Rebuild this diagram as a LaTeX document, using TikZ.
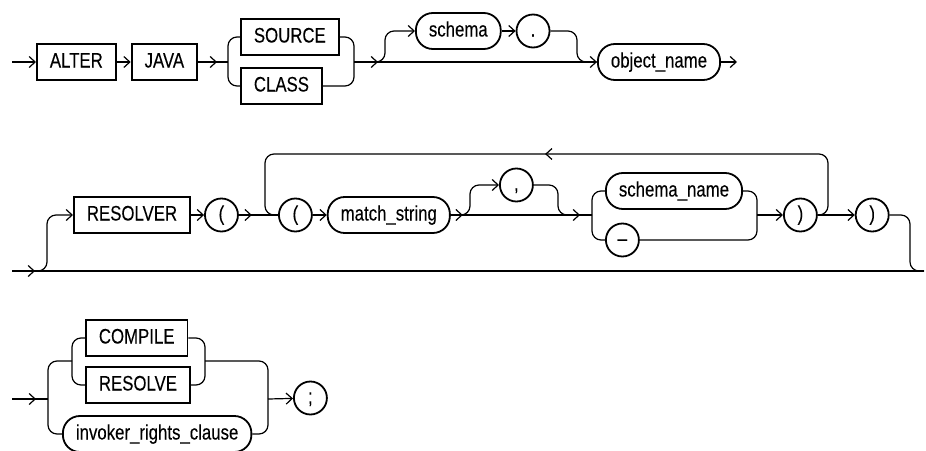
\documentclass[tikz,border=0pt]{standalone}
\usepackage{fontspec}
\setmainfont{Liberation Sans}[FakeStretch=0.8, FakeBold=0.15]
\usetikzlibrary{arrows.meta,positioning,decorations.markings}

\begin{document}
\begin{tikzpicture}[
    x=1pt, y=-1pt,
    font=\fontsize{21}{24}\selectfont,
    kw/.style={rectangle, draw, line width=1.8pt, minimum height=36pt, inner xsep=13pt, text height=15pt, text depth=4pt},
    ident/.style={kw, rounded corners=17pt},
    punct/.style={circle, draw, line width=1.8pt, minimum size=33pt, inner sep=0pt, text height=15pt, text depth=4pt},
    rail/.style={line width=1.2pt, rounded corners=9pt},
    flow/.style={rail, -{Straight Barb[length=6pt, width=11pt]}},
    tipat/.style={postaction={decorate, decoration={markings, mark=at position #1 with {\arrow{Straight Barb[length=6pt, width=11pt]}}}}},
    node distance=14pt
]
    \useasboundingbox (0,0) rectangle (926,450);

    % ALTER JAVA {SOURCE|CLASS} [schema .] object_name
    \coordinate (in1) at (12,62);
    \node[kw, anchor=west] (alter) at (36,62) {ALTER};
    \node[kw, right=of alter] (java) {JAVA};
    \coordinate (fork1) at (228,62);
    \node[kw, anchor=west] (source) at (240,37) {SOURCE};
    \node[kw, anchor=west] (class) at (240,86) {CLASS};
    \coordinate (join1) at (354,62);
    \coordinate (opt1) at (385,62);
    \node[ident, anchor=west] (schema) at (415,31) {schema};
    \node[punct, right=of schema] (dot) {.};
    \coordinate (back1) at (577,62);
    \node[ident, anchor=west] (objname) at (597,62) {object\_name};
    \coordinate (out1) at (737,62);

    \draw[flow] (in1) -- (alter);
    \draw[flow] (alter) -- (java);
    \draw[rail, tipat=-11pt] (java) -- (fork1);
    \draw[rail] (source.west) -| (fork1) |- (class.west);
    \draw[rail] (source.east) -| (join1) |- (class.east);
    \draw[flow, tipat=24pt] (join1) -- (objname);
    \draw[flow] (join1) -- (opt1) |- (schema.west);
    \draw[flow] (schema) -- (dot);
    \draw[rail] (dot.east) -| (back1) -- (objname.west);
    \draw[flow] (objname) -- (out1);

    % RESOLVER clause
    \coordinate (in2) at (12,271);
    \coordinate (rise2) at (47,271);
    \node[kw, anchor=west] (resolver) at (73,215) {RESOLVER};
    \node[punct, right=13pt of resolver] (lpar1) {(};
    \coordinate (loopin) at (265,215);
    \node[punct, anchor=west] (lpar2) at (278,215) {(};
    \node[ident, right=of lpar2] (match) {match\_string};
    \coordinate (opt2) at (470,215);
    \node[punct, anchor=west] (comma) at (499,185) {,};
    \coordinate (back2) at (558,215);
    \coordinate (fork2) at (592,215);
    \node[ident, anchor=west] (sname) at (605,191) {schema\_name};
    \node[punct, anchor=west] (dash) at (605,240) {--};
    \coordinate (join2) at (757,215);
    \node[punct, anchor=west] (rpar1) at (783,215) {)};
    \coordinate (loopout) at (828,215);
    \coordinate (looptop) at (546,154);
    \node[punct, right=37pt of rpar1] (rpar2) {)};
    \coordinate (drop2) at (910,271);
    \coordinate (out2) at (924,271);

    \draw[rail, tipat=23pt] (in2) -- (out2);
    \draw[flow] (in2) -- (rise2) |- (resolver.west);
    \draw[flow] (resolver) -- (lpar1);
    \draw[rail, tipat=13pt] (lpar1) -- (lpar2);
    \draw[rail, tipat=0.5] (rpar1.east) -- (loopout) |- (looptop) -| (loopin) -- (lpar2.west);
    \draw[flow] (lpar2) -- (match);
    \draw[rail, tipat=12pt, tipat=-12pt] (match) -- (fork2);
    \draw[flow] (match.east) -- (opt2) |- (comma.west);
    \draw[rail] (comma.east) -| (back2) -- (fork2);
    \draw[rail] (sname.west) -| (fork2) |- (dash.west);
    \draw[rail] (sname.east) -| (join2) |- (dash.east);
    \draw[flow] (join2) -- (rpar1);
    \draw[flow] (rpar1) -- (rpar2);
    \draw[rail] (rpar2.east) -| (drop2) -- (out2);

    % COMPILE | RESOLVE | invoker_rights_clause ;
    \coordinate (in3) at (12,399);
    \coordinate (fork3) at (48,399);
    \coordinate (fork4) at (72,361);
    \node[kw, anchor=west] (compile) at (85,338) {COMPILE};
    \node[kw, anchor=west] (resolve) at (85,385) {RESOLVE};
    \node[ident, anchor=west] (invoker) at (62,434) {invoker\_rights\_clause};
    \coordinate (join4) at (205,361);
    \coordinate (join3) at (268,399);
    \node[punct, anchor=west] (semi) at (293,398) {;};

    \draw[rail, tipat=-12pt] (in3) -- (fork3);
    \draw[rail] (fork4) -| (fork3) |- (invoker.west);
    \draw[rail] (compile.west) -| (fork4) |- (resolve.west);
    \draw[rail] (compile.east) -| (join4) |- (resolve.east);
    \draw[rail] (join4) -| (join3) |- (invoker.east);
    \draw[flow] (join3) -- (semi);
\end{tikzpicture}
\end{document}
